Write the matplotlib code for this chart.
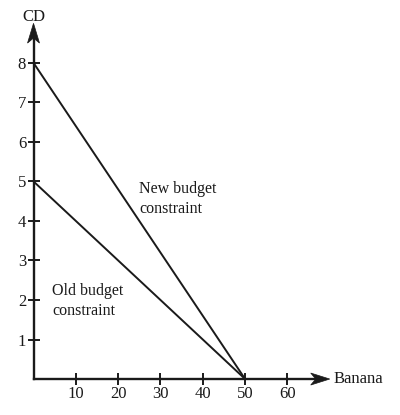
import numpy as np
import matplotlib
matplotlib.use("Agg")
import matplotlib.pyplot as plt
from matplotlib.patches import Polygon

plt.rcParams['font.family'] = ['Liberation Serif', 'DejaVu Serif']

# data
banana_ticks = [10, 20, 30, 40, 50, 60]
cd_ticks = [1, 2, 3, 4, 5, 6, 7, 8]
new_x = [0, 50]
new_y = [8, 0]
old_x = [0, 50]
old_y = [5, 0]

ink = '#1a1a1a'

fig = plt.figure(figsize=(4.0, 4.15), dpi=100)
ax = fig.add_axes([0, 0, 1, 1])
ax.set_xlim(-7.92, 86.6)
ax.set_ylim(-0.91, 9.59)

ax.plot(new_x, new_y, color=ink, lw=1.4, solid_capstyle='butt')
ax.plot(old_x, old_y, color=ink, lw=1.4, solid_capstyle='butt')

for s in ['top', 'right']:
    ax.spines[s].set_visible(False)
ax.spines['left'].set_position(('data', 0))
ax.spines['bottom'].set_position(('data', 0))
ax.spines['left'].set_bounds(0, 8.6)
ax.spines['bottom'].set_bounds(0, 67)
for s in ['left', 'bottom']:
    ax.spines[s].set_linewidth(1.7)
    ax.spines[s].set_color(ink)

ax.set_xticks(banana_ticks)
ax.set_yticks(cd_ticks)
ax.tick_params(direction='inout', length=8.5, width=1.4, color=ink,
               labelsize=12, labelcolor=ink, pad=1)


def arrow_head(tip, back, half_w, notch):
    # notched arrow head in pixel space, converted to data
    to_px = ax.transData.transform
    to_data = ax.transData.inverted().transform
    t = np.array(to_px(tip))
    b = np.array(to_px(back))
    d = (t - b) / np.linalg.norm(t - b)
    n = np.array([-d[1], d[0]])
    pts = [t, b + n * half_w, b + d * notch, b - n * half_w]
    ax.add_patch(Polygon(to_data(np.array(pts)), closed=True,
                         facecolor=ink, edgecolor=ink, lw=0.5))


arrow_head((70, 0), (65.5, 0), 6, 5)
arrow_head((0, 9.0), (0, 8.5), 6, 5)

ax.text(0, 9.15, 'CD', ha='center', va='center', fontsize=12, color=ink)
ax.text(70.8, 0, 'Banana', ha='left', va='center', fontsize=12, color=ink)

ax.text(24.9, 4.55, 'New budget\nconstraint', ha='left', va='center',
        fontsize=11.5, color=ink, linespacing=1.3)
ax.text(4.4, 1.97, 'Old budget\nconstraint', ha='left', va='center',
        fontsize=11.5, color=ink, linespacing=1.3)

fig.savefig('out.png', dpi=100)
